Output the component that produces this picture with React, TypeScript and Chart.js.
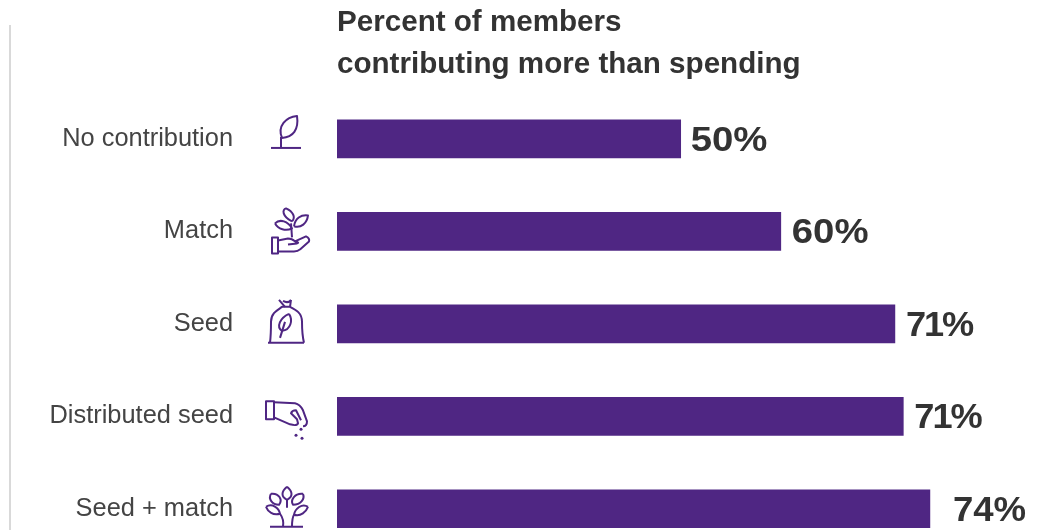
import React, { useEffect, useRef } from "react";
import { Chart, registerables } from "chart.js";

Chart.register(...registerables);

const categories = ["No contribution", "Match", "Seed", "Distributed seed", "Seed + match"];
// Drawn bar lengths as they appear in the picture (axis units); printed labels are separate.
const barLengths = [49.1, 63.4, 79.7, 80.9, 84.7];
const valueLabels = ["50%", "60%", "71%", "71%", "74%"];
const titleLines = ["Percent of members", "contributing more than spending"];

const PURPLE = "#4f2683";
const DARK = "#333333";
const FONT = "'Liberation Sans', Arial, sans-serif";

const iconPaths: string[][] = [
  ["M-15 9 H15", "M-5 9 V-2", "M-4 -1 C-9 -13 0 -22 11 -23 C13 -9 7 -2 -4 -1"],
  [
    "M-14 6 H-8 V22 H-14 Z",
    "M-8 9 L2 7 Q6 7 9 10 L20 5 Q24 7 23 10 L14 18 Q12 20 8 20 L-8 20",
    "M2 13 L11 12 Q14 11 9 10",
    "M6 6 L5 -8",
    "M6 -10 C-4 -15 -4 -22 0 -23 C7 -20 10 -14 6 -10",
    "M8 -5 C9 -13 15 -17 22 -16 C21 -8 15 -3 8 -5",
    "M-11 -8 C-6 -13 2 -10 6 -3 C0 0 -8 -2 -11 -8",
  ],
  [
    "M-18 19 H18",
    "M-16 19 C-15 11 -15 6 -15 -2 C-15 -11 -8 -14 -4 -17 L4 -17 C10 -14 16 -11 16 -2 C16 6 16 11 18 19",
    "M-7 -24 L-1 -17 M5 -24 L4 -17 M-3 -23 Q2 -20 5 -24",
    "M3 -10 C-6 -6 -10 3 -4 7 C5 6 7 -4 3 -10",
    "M-6 14 L-1 -2",
  ],
  [
    "M-20 -15 H-12 V3 H-20 Z",
    "M-12 -14 L9 -13 Q14 -12 17 -6 L21 5 Q21 10 17 10",
    "M-12 1 L4 8 Q11 10 12 7 L11 3 L5 -3 Q6 -6 10 -6 L15 4",
  ],
  [
    "M-16 18 H17",
    "M1 -22 C-5 -17 -5 -12 1 -9 C7 -12 7 -17 1 -22",
    "M-15 -15 C-7 -16 -3 -9 -7 -4 C-14 -4 -18 -10 -15 -15",
    "M17 -15 C9 -16 4 -9 7 -4 C15 -4 19 -10 17 -15",
    "M-20 -2 C-14 -6 -7 -1 -6 5 C-13 7 -18 3 -20 -2",
    "M22 -2 C16 -6 9 0 8 6 C15 8 20 3 22 -2",
    "M-3 18 C-2 12 -3 9 -6 5 M6 18 C6 12 6 9 8 6 M1 -9 L1 -1",
  ],
];
const iconDots: number[][][] = [[], [], [], [[15, 13], [10, 19], [16, 22]], []];
const labelGaps = [10, 11, 11, 11, 23];
const labelTracking = [0, 0, -2, -2, 0];
const labelStretch = [1.08, 1.08, 1.02, 1.02, 1.03];

const decorPlugin = {
  id: "decor",
  afterDatasetsDraw(chart: any) {
    const { ctx } = chart;
    const meta = chart.getDatasetMeta(0);
    ctx.save();
    // left rule
    ctx.fillStyle = "#d9d9d9";
    ctx.fillRect(9, 25, 2, 540);
    // value labels
    ctx.fillStyle = DARK;
    ctx.font = `bold 35.5px ${FONT}`;
    ctx.textAlign = "left";
    ctx.textBaseline = "middle";
    meta.data.forEach((bar: any, i: number) => {
      ctx.save();
      ctx.translate(bar.x + labelGaps[i], bar.y + 2);
      ctx.scale(labelStretch[i], 1);
      ctx.letterSpacing = `${labelTracking[i]}px`;
      ctx.fillText(valueLabels[i], 0, 0);
      ctx.restore();
    });
    // icons
    ctx.strokeStyle = PURPLE;
    ctx.fillStyle = PURPLE;
    ctx.lineWidth = 2;
    ctx.lineJoin = "round";
    ctx.lineCap = "butt";
    meta.data.forEach((bar: any, i: number) => {
      ctx.save();
      ctx.translate(286, bar.y);
      iconPaths[i].forEach((d) => ctx.stroke(new Path2D(d)));
      iconDots[i].forEach(([x, y]) => {
        ctx.beginPath();
        ctx.arc(x, y, 1.5, 0, Math.PI * 2);
        ctx.fill();
      });
      ctx.restore();
    });
    ctx.restore();
  },
};

export default function App() {
  const ref = useRef<HTMLCanvasElement | null>(null);
  useEffect(() => {
    document.body.style.margin = "0";
    const chart = new Chart(ref.current!, {
      type: "bar",
      data: {
        labels: categories,
        datasets: [{ data: barLengths, backgroundColor: PURPLE, barThickness: 38 }],
      },
      plugins: [decorPlugin],
      options: {
        indexAxis: "y",
        animation: false,
        responsive: false,
        layout: { padding: { top: 0, right: 13, bottom: 5, left: 0 } },
        plugins: {
          legend: { display: false },
          tooltip: { enabled: false },
          title: {
            display: true,
            text: titleLines,
            align: "start",
            fullSize: false,
            color: DARK,
            font: { family: FONT, size: 29.6, weight: "bold", lineHeight: 1.414 },
            padding: { top: 2, bottom: 7 },
          },
        },
        scales: {
          x: { display: false, min: 0, max: 100 },
          y: {
            grid: { display: false, drawTicks: false },
            border: { display: false },
            afterFit: (scale: any) => {
              scale.width = 337;
              scale.paddingTop = 0;
              scale.paddingBottom = 0;
              scale.paddingLeft = 0;
              scale.paddingRight = 0;
            },
            ticks: {
              color: "#444444",
              padding: 104,
              font: { family: FONT, size: 25.4 },
            },
          },
        },
      },
    });
    return () => chart.destroy();
  }, []);
  return (
    <div style={{ width: 1050, height: 530, overflow: "hidden", position: "relative" }}>
      <canvas ref={ref} width={1050} height={560} style={{ display: "block" }} />
    </div>
  );
}
